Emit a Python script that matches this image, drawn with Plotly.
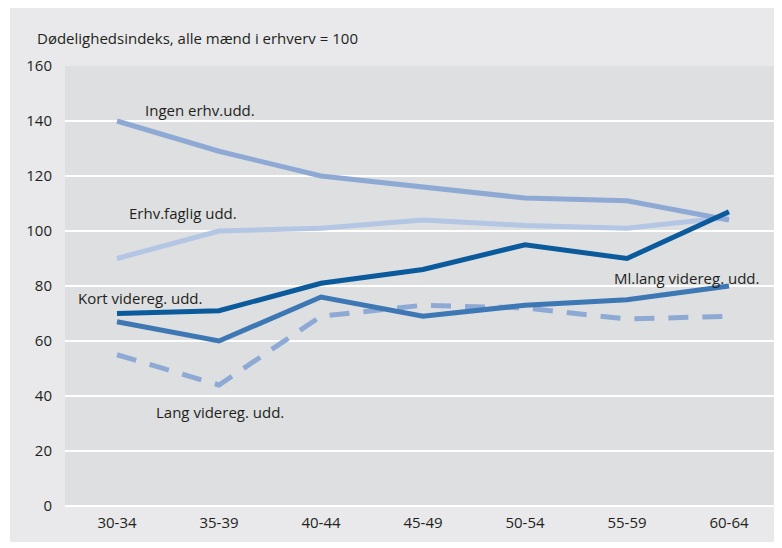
import plotly.graph_objects as go

categories = ["30-34", "35-39", "40-44", "45-49", "50-54", "55-59", "60-64"]
ingen = [140, 129, 120, 116, 112, 111, 104]
erhvfaglig = [90, 100, 101, 104, 102, 101, 105]
kort = [70, 71, 81, 86, 95, 90, 107]
mllang = [67, 60, 76, 69, 73, 75, 80]
lang = [55, 44, 69, 73, 72, 68, 69]
y_title = "Dødelighedsindeks, alle mænd i erhverv = 100"

FONT = "Open Sans, sans-serif"
TXT = "#231f20"

fig = go.Figure()
series = [
    ("Erhv.faglig udd.", erhvfaglig, "#b3c6e3", "solid"),
    ("Ingen erhv.udd.", ingen, "#8eaad4", "solid"),
    ("Lang videreg. udd.", lang, "#8eaad4", "dash"),
    ("Ml.lang videreg. udd.", mllang, "#3d77b4", "solid"),
    ("Kort videreg. udd.", kort, "#0b5a9c", "solid"),
]
for name, vals, col, dash in series:
    fig.add_trace(go.Scatter(
        x=list(range(len(categories))), y=vals, name=name, mode="lines",
        line=dict(color=col, width=5, dash="20px,14px" if dash == "dash" else "solid"),
        showlegend=False, hoverinfo="skip"))

labels = [
    ("Ingen erhv.udd.", 0.25, 144),
    ("Erhv.faglig udd.", 0.1, 106.5),
    ("Kort videreg. udd.", -0.4, 75.6),
    ("Ml.lang videreg. udd.", 4.85, 83),
    ("Lang videreg. udd.", 0.36, 34.2),
]
for text, x, y in labels:
    fig.add_annotation(x=x, y=y, text=text, showarrow=False, xanchor="left",
                       yanchor="middle", font=dict(family=FONT, size=15, color=TXT))

fig.add_annotation(xref="paper", yref="paper", x=(35 - 65) / 717, y=(506 - 38) / 440,
                   text=y_title, showarrow=False, xanchor="left", yanchor="middle",
                   font=dict(family=FONT, size=15, color=TXT))

# outer light panel
fig.add_shape(type="rect", xref="paper", yref="paper", layer="below",
              x0=(10 - 65) / 717, x1=1.0, y0=(506 - 542) / 440, y1=(506 - 6) / 440,
              fillcolor="#e9e9eb", line=dict(width=0))
# plot area fill
fig.add_shape(type="rect", xref="paper", yref="paper", layer="below",
              x0=0, x1=1.0, y0=0, y1=1,
              fillcolor="#dedfe1", line=dict(width=0))

# page body has an 8px margin: figure sits at (8, 8)
fig.update_layout(
    width=774, height=540,
    margin=dict(l=57, r=0, t=58, b=42),
    paper_bgcolor="white", plot_bgcolor="#dedfe1",
    font=dict(family=FONT, size=15, color=TXT),
    xaxis=dict(range=[-0.51, 6.52], tickmode="array",
               tickvals=list(range(len(categories))), ticktext=categories,
               showgrid=False, zeroline=False, showline=False, ticks="",
               ticklabelstandoff=6, fixedrange=True),
    yaxis=dict(range=[0, 160], tickvals=[0, 20, 40, 60, 80, 100, 120, 140, 160],
               showgrid=True, gridcolor="white", gridwidth=2,
               zeroline=True, zerolinecolor="white", zerolinewidth=2,
               showline=False, ticks="", ticklabelstandoff=12, fixedrange=True),
)

fig.write_html("out.html")
